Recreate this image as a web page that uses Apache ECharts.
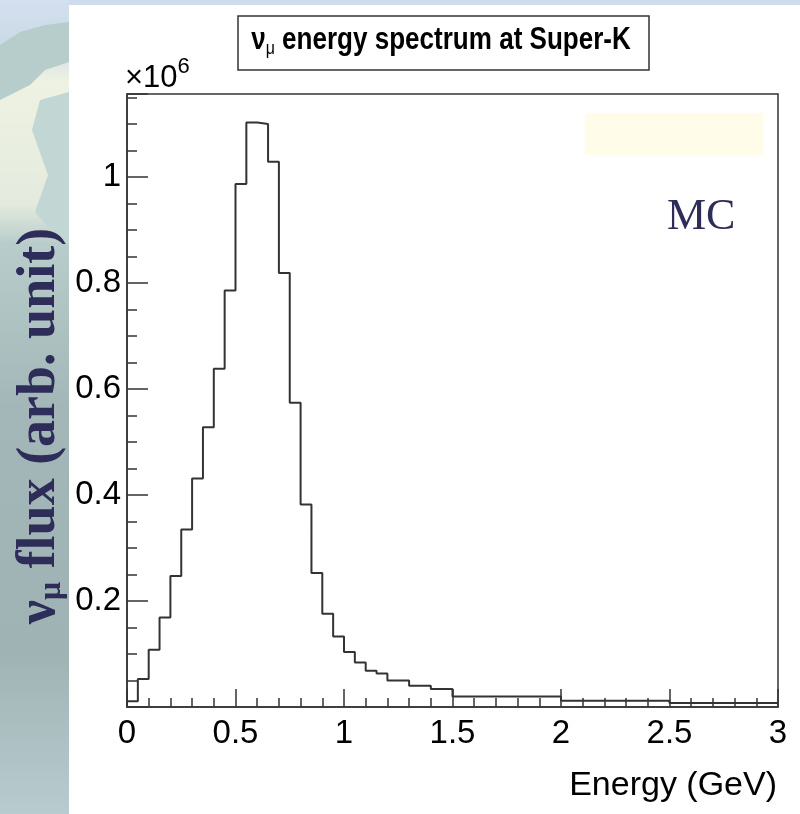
<!DOCTYPE html>
<html><head><meta charset="utf-8">
<script src="https://cdn.jsdelivr.net/npm/echarts@6/dist/echarts.min.js"></script>
<style>html,body{margin:0;padding:0;background:#fff}#c{width:800px;height:814px}</style>
</head><body><div id="c"></div>
<script>
// bin edges (GeV) – variable width histogram
const binEdges = [0,0.05,0.1,0.15,0.2,0.25,0.3,0.35,0.4,0.45,0.5,0.55,0.6,0.65,0.7,0.75,0.8,0.85,0.9,0.95,1.0,1.05,1.1,1.15,1.2,1.3,1.4,1.5,2.0,2.5,3.0];
// flux per bin, in units of 10^6
const fluxValues = [0.011,0.053,0.108,0.169,0.247,0.335,0.431,0.528,0.638,0.786,0.987,1.103,1.100,1.029,0.819,0.574,0.382,0.253,0.176,0.133,0.104,0.084,0.0685,0.063,0.050,0.040,0.034,0.020,0.012,0.0075];
const xTickLabels = ['0','0.5','1','1.5','2','2.5','3'];
const yTickLabels = ['0.2','0.4','0.6','0.8','1'];
const titleMain = 'ν', titleSub = 'μ', titleRest = ' energy spectrum at Super-K';
const yTitleMain = 'ν', yTitleSub = 'μ', yTitleRest = ' flux (arb. unit)';
const xTitle = 'Energy (GeV)';
const scaleBase = '×10', scaleExp = '6';
const mcLabel = 'MC';

const stepData = binEdges.slice(0, -1).map((e, i) => [e, fluxValues[i]]);
stepData.push([binEdges[binEdges.length - 1], fluxValues[fluxValues.length - 1]]);

const chart = echarts.init(document.getElementById('c'), null, {renderer: 'canvas'});
const axisCol = '#333';
const sans = '"Liberation Sans", Arial, Helvetica, sans-serif';
const serif = '"Liberation Serif", "Times New Roman", serif';

chart.setOption({
  animation: false,
  backgroundColor: '#fff',
  grid: {left: 127, right: 22, top: 94, bottom: 107, show: true, borderColor: axisCol, borderWidth: 1.5, backgroundColor: '#fff'},
  xAxis: {
    type: 'value', min: 0, max: 3, interval: 0.5,
    axisLine: {show: true, onZero: false, lineStyle: {color: axisCol, width: 1.5}},
    axisTick: {show: true, inside: true, length: 18, lineStyle: {color: axisCol, width: 1.5}},
    minorTick: {show: true, splitNumber: 5, length: 9, lineStyle: {color: axisCol, width: 1.5}},
    splitLine: {show: false},
    axisLabel: {fontSize: 33, color: '#000', fontFamily: sans, margin: 10,
      formatter: v => xTickLabels[Math.round(v / 0.5)] || ''}
  },
  yAxis: {
    type: 'value', min: 0, max: 1.1566, interval: 0.2,
    axisLine: {show: true, onZero: false, lineStyle: {color: axisCol, width: 1.5}},
    axisTick: {show: true, inside: true, length: 21, lineStyle: {color: axisCol, width: 1.5}},
    minorTick: {show: true, splitNumber: 4, length: 10, lineStyle: {color: axisCol, width: 1.5}},
    splitLine: {show: false},
    axisLabel: {fontSize: 33, color: '#000', fontFamily: sans, margin: 6, showMaxLabel: false, showMinLabel: false,
      formatter: v => {
        const i = Math.round(v / 0.2);
        if (i < 1 || Math.abs(v - i * 0.2) > 1e-6) return '';
        return yTickLabels[i - 1] || '';
      }}
  },
  series: [{
    type: 'line', step: 'end', data: stepData, symbol: 'none', showSymbol: false,
    lineStyle: {color: '#333', width: 2}, clip: true
  }],
  graphic: [
    {type: 'rect', silent: true, z: -10, shape: {x: 0, y: 0, width: 800, height: 5}, style: {fill: '#cfdcee'}},
    {type: 'rect', silent: true, z: -10, shape: {x: 0, y: 0, width: 69, height: 814},
      style: {fill: new echarts.graphic.LinearGradient(0, 0, 0, 1, [
        {offset: 0, color: '#d4dfef'}, {offset: 0.05, color: '#cbdbe6'}, {offset: 0.1, color: '#eef2e2'},
        {offset: 0.25, color: '#e4ebde'}, {offset: 0.3, color: '#b8cccb'},
        {offset: 0.5, color: '#a3b7b8'}, {offset: 0.8, color: '#9fb3b5'}, {offset: 1, color: '#b8cbce'}])}},
    {type: 'polygon', silent: true, z: -9, shape: {points: [[0,45],[20,32],[45,25],[69,22],[69,62],[45,70],[30,85],[10,95],[0,100]]}, style: {fill: '#b6cdcb'}},
    {type: 'polygon', silent: true, z: -9, shape: {points: [[40,100],[69,92],[69,245],[55,235],[35,212],[48,175],[32,130]]}, style: {fill: '#c2d6d3'}},
    {type: 'rect', silent: true, z: 5, shape: {x: 585, y: 113, width: 178, height: 42}, style: {fill: '#fffde9'}},
    {type: 'rect', silent: true, z: 5, shape: {x: 238, y: 16, width: 411, height: 54}, style: {fill: '#fff', stroke: '#333', lineWidth: 1.5}},
    {type: 'text', silent: true, z: 6, x: 441, y: 40, scaleX: 0.84, originX: 0, originY: 0,
      style: {text: '{a|' + titleMain + '}{b|' + titleSub + '}{a|' + titleRest + '}',
        textAlign: 'center', align: 'center', textVerticalAlign: 'middle', verticalAlign: 'middle',
        fontFamily: sans, fontWeight: 'bold', fontSize: 31, fill: '#000',
        rich: {a: {fontFamily: sans, fontWeight: 'bold', fontSize: 31, lineHeight: 36, fill: '#000'},
               b: {fontFamily: sans, fontWeight: 'normal', fontSize: 19, lineHeight: 19, verticalAlign: 'bottom', fill: '#000'}}}},
    {type: 'text', silent: true, z: 6, x: 125, y: 94,
      style: {text: '{a|' + scaleBase + '}{b|' + scaleExp + '}', textAlign: 'left', align: 'left',
        textVerticalAlign: 'bottom', verticalAlign: 'bottom', fontFamily: sans, fontSize: 31, fill: '#000',
        rich: {a: {fontFamily: sans, fontSize: 31, lineHeight: 38, verticalAlign: 'bottom', fill: '#000'},
               b: {fontFamily: sans, fontSize: 22, lineHeight: 22, verticalAlign: 'top', fill: '#000'}}}},
    {type: 'text', silent: true, z: 6, x: 777, y: 786,
      style: {text: xTitle, textAlign: 'right', align: 'right', textVerticalAlign: 'middle', verticalAlign: 'middle',
        fontFamily: sans, fontSize: 34, fill: '#000'}},
    {type: 'text', silent: true, z: 6, x: 667, y: 217,
      style: {text: mcLabel, textAlign: 'left', align: 'left', textVerticalAlign: 'middle', verticalAlign: 'middle',
        fontFamily: serif, fontSize: 44, fill: '#2e2d5a'}},
    {type: 'text', silent: true, z: 6, x: 40, y: 426, rotation: Math.PI / 2, originX: 0, originY: 0,
      style: {text: '{a|' + yTitleMain + '}{b|' + yTitleSub + '}{a|' + yTitleRest + '}',
        textAlign: 'center', align: 'center', textVerticalAlign: 'middle', verticalAlign: 'middle',
        fontFamily: serif, fontWeight: 'bold', fontSize: 54, fill: '#2e2d5a',
        rich: {a: {fontFamily: serif, fontWeight: 'bold', fontSize: 54, lineHeight: 56, fill: '#2e2d5a'},
               b: {fontFamily: serif, fontWeight: 'bold', fontSize: 32, lineHeight: 32, verticalAlign: 'bottom', fill: '#2e2d5a'}}}}
  ]
});
</script></body></html>
